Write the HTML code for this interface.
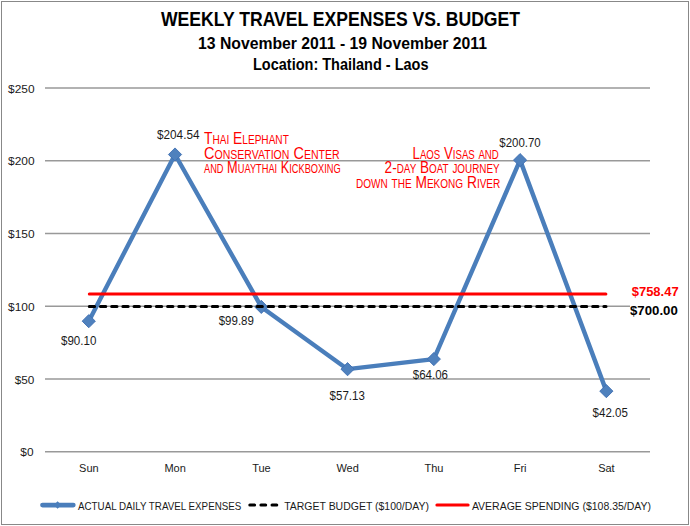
<!DOCTYPE html>
<html><head><meta charset="utf-8">
<style>
html,body{margin:0;padding:0;background:#fff;width:690px;height:526px;overflow:hidden}
svg{display:block}
text{font-family:"Liberation Sans",sans-serif}
.ax{font-size:11px;fill:#1a1a1a}
.dl{font-size:12px;fill:#1a1a1a}
.lg{font-size:10.5px;fill:#1a1a1a}
.hw{font-size:16.5px;fill:#ff0000;font-variant:small-caps}
</style></head>
<body>
<svg width="690" height="526" viewBox="0 0 690 526">
<rect x="0" y="0" width="690" height="526" fill="#fff"/>
<rect x="1.5" y="1.5" width="687" height="523" fill="none" stroke="#888" stroke-width="1"/>

<!-- titles -->
<text x="161" y="26" font-size="19.5" font-weight="bold" fill="#000" textLength="359" lengthAdjust="spacingAndGlyphs">WEEKLY TRAVEL EXPENSES VS. BUDGET</text>
<text x="198" y="48.6" font-size="16" font-weight="bold" fill="#000" textLength="289" lengthAdjust="spacingAndGlyphs">13 November 2011 - 19 November 2011</text>
<text x="253" y="70" font-size="16" font-weight="bold" fill="#000" textLength="175.5" lengthAdjust="spacingAndGlyphs">Location: Thailand - Laos</text>

<!-- gridlines -->
<g stroke="#999" stroke-width="1.5">
<line x1="45" y1="88.05" x2="650" y2="88.05"/>
<line x1="45" y1="160.8" x2="650" y2="160.8"/>
<line x1="45" y1="233.55" x2="650" y2="233.55"/>
<line x1="45" y1="306.3" x2="630" y2="306.3"/>
<line x1="45" y1="379.05" x2="650" y2="379.05"/>
<line x1="45" y1="451.8" x2="650" y2="451.8"/>
</g>

<!-- y axis labels -->
<g class="ax">
<text x="8.1" y="92.5" textLength="26.5" lengthAdjust="spacingAndGlyphs">$250</text>
<text x="8.1" y="165.3" textLength="26.5" lengthAdjust="spacingAndGlyphs">$200</text>
<text x="8.1" y="238" textLength="26.5" lengthAdjust="spacingAndGlyphs">$150</text>
<text x="8.1" y="310.8" textLength="26.5" lengthAdjust="spacingAndGlyphs">$100</text>
<text x="14.8" y="383.5" textLength="19.6" lengthAdjust="spacingAndGlyphs">$50</text>
<text x="20.3" y="456.3" textLength="13.2" lengthAdjust="spacingAndGlyphs">$0</text>
</g>

<!-- x axis labels -->
<g class="ax" text-anchor="middle">
<text x="88.9" y="472">Sun</text>
<text x="175.15" y="472">Mon</text>
<text x="261.4" y="472">Tue</text>
<text x="347.65" y="472">Wed</text>
<text x="433.9" y="472">Thu</text>
<text x="520.15" y="472">Fri</text>
<text x="606.4" y="472">Sat</text>
</g>

<!-- average & target lines -->

<!-- series -->
<polyline fill="none" stroke="#4a7ebb" stroke-width="4.4" stroke-linejoin="round" points="88.76,321.17 175.03,154.53 261.29,306.91 347.56,369.17 433.82,359.08 520.09,160.12 606.35,391.13"/>
<g fill="#4f81bd" stroke="#3f6fb2" stroke-width="0.9" stroke-linejoin="miter">
<path d="M88.76,314.57 L95.36,321.17 L88.76,327.77 L82.16,321.17Z"/>
<path d="M175.03,147.93 L181.62,154.53 L175.03,161.13 L168.43,154.53Z"/>
<path d="M261.29,300.31 L267.89,306.91 L261.29,313.51 L254.69,306.91Z"/>
<path d="M347.56,362.57 L354.16,369.17 L347.56,375.77 L340.95,369.17Z"/>
<path d="M433.82,352.48 L440.42,359.08 L433.82,365.68 L427.22,359.08Z"/>
<path d="M520.09,153.52 L526.69,160.12 L520.09,166.72 L513.49,160.12Z"/>
<path d="M606.35,384.53 L612.95,391.13 L606.35,397.73 L599.75,391.13Z"/>
</g>

<line x1="89.3" y1="306.4" x2="606" y2="306.4" stroke="#000" stroke-width="3" stroke-linecap="round" stroke-dasharray="5.3 5.886"/>
<line x1="89.3" y1="294" x2="605.9" y2="294" stroke="#ff0000" stroke-width="3" stroke-linecap="round"/>

<!-- data labels -->
<g class="dl">
<text x="61" y="344.8" textLength="35.4" lengthAdjust="spacingAndGlyphs">$90.10</text>
<text x="157" y="138.5" textLength="42.5" lengthAdjust="spacingAndGlyphs">$204.54</text>
<text x="218.7" y="325" textLength="35.2" lengthAdjust="spacingAndGlyphs">$99.89</text>
<text x="329.6" y="399.8" textLength="35.2" lengthAdjust="spacingAndGlyphs">$57.13</text>
<text x="412.8" y="378.5" textLength="35.2" lengthAdjust="spacingAndGlyphs">$64.06</text>
<text x="499.3" y="146.5" textLength="41.4" lengthAdjust="spacingAndGlyphs">$200.70</text>
<text x="592.6" y="417.4" textLength="35.2" lengthAdjust="spacingAndGlyphs">$42.05</text>
</g>

<!-- totals -->
<text x="631.7" y="296.2" font-size="12" font-weight="bold" fill="#ff0000" textLength="47" lengthAdjust="spacingAndGlyphs">$758.47</text>
<rect x="630.5" y="301" width="50" height="16" fill="#fff"/>
<text x="630" y="314.7" font-size="12" font-weight="bold" fill="#000" textLength="47.8" lengthAdjust="spacingAndGlyphs">$700.00</text>

<!-- handwritten annotations -->
<g class="hw">
<text x="204" y="143.9" textLength="84.8" lengthAdjust="spacingAndGlyphs">Thai Elephant</text>
<text x="204" y="158.6" textLength="135.6" lengthAdjust="spacingAndGlyphs">Conservation Center</text>
<text x="204" y="172.7" textLength="136.7" lengthAdjust="spacingAndGlyphs">and Muaythai Kickboxing</text>
</g>
<g class="hw">
<text x="412.5" y="158.6" textLength="86.3" lengthAdjust="spacingAndGlyphs">Laos Visas and</text>
<text x="384.6" y="173.1" textLength="115" lengthAdjust="spacingAndGlyphs">2-day Boat journey</text>
<text x="356" y="187.8" textLength="144.3" lengthAdjust="spacingAndGlyphs">down the Mekong River</text>
</g>

<!-- legend -->
<line x1="42.5" y1="505" x2="73.3" y2="505" stroke="#4a7ebb" stroke-width="4.75" stroke-linecap="round"/>
<path d="M57.6,501.3 L61.3,505 L57.6,508.7 L53.9,505Z" fill="#4a7ebb"/>
<text class="lg" x="78" y="509.6" textLength="163.3" lengthAdjust="spacingAndGlyphs">ACTUAL DAILY TRAVEL EXPENSES</text>
<line x1="249.8" y1="505" x2="278.1" y2="505" stroke="#000" stroke-width="3" stroke-linecap="round" stroke-dasharray="4.8 6.3"/>
<text class="lg" x="284.2" y="509.6" textLength="144.8" lengthAdjust="spacingAndGlyphs">TARGET BUDGET ($100/DAY)</text>
<line x1="436.9" y1="505" x2="468.1" y2="505" stroke="#ff0000" stroke-width="3" stroke-linecap="round"/>
<text class="lg" x="471.9" y="509.6" textLength="179.1" lengthAdjust="spacingAndGlyphs">AVERAGE SPENDING ($108.35/DAY)</text>
</svg>
</body></html>
